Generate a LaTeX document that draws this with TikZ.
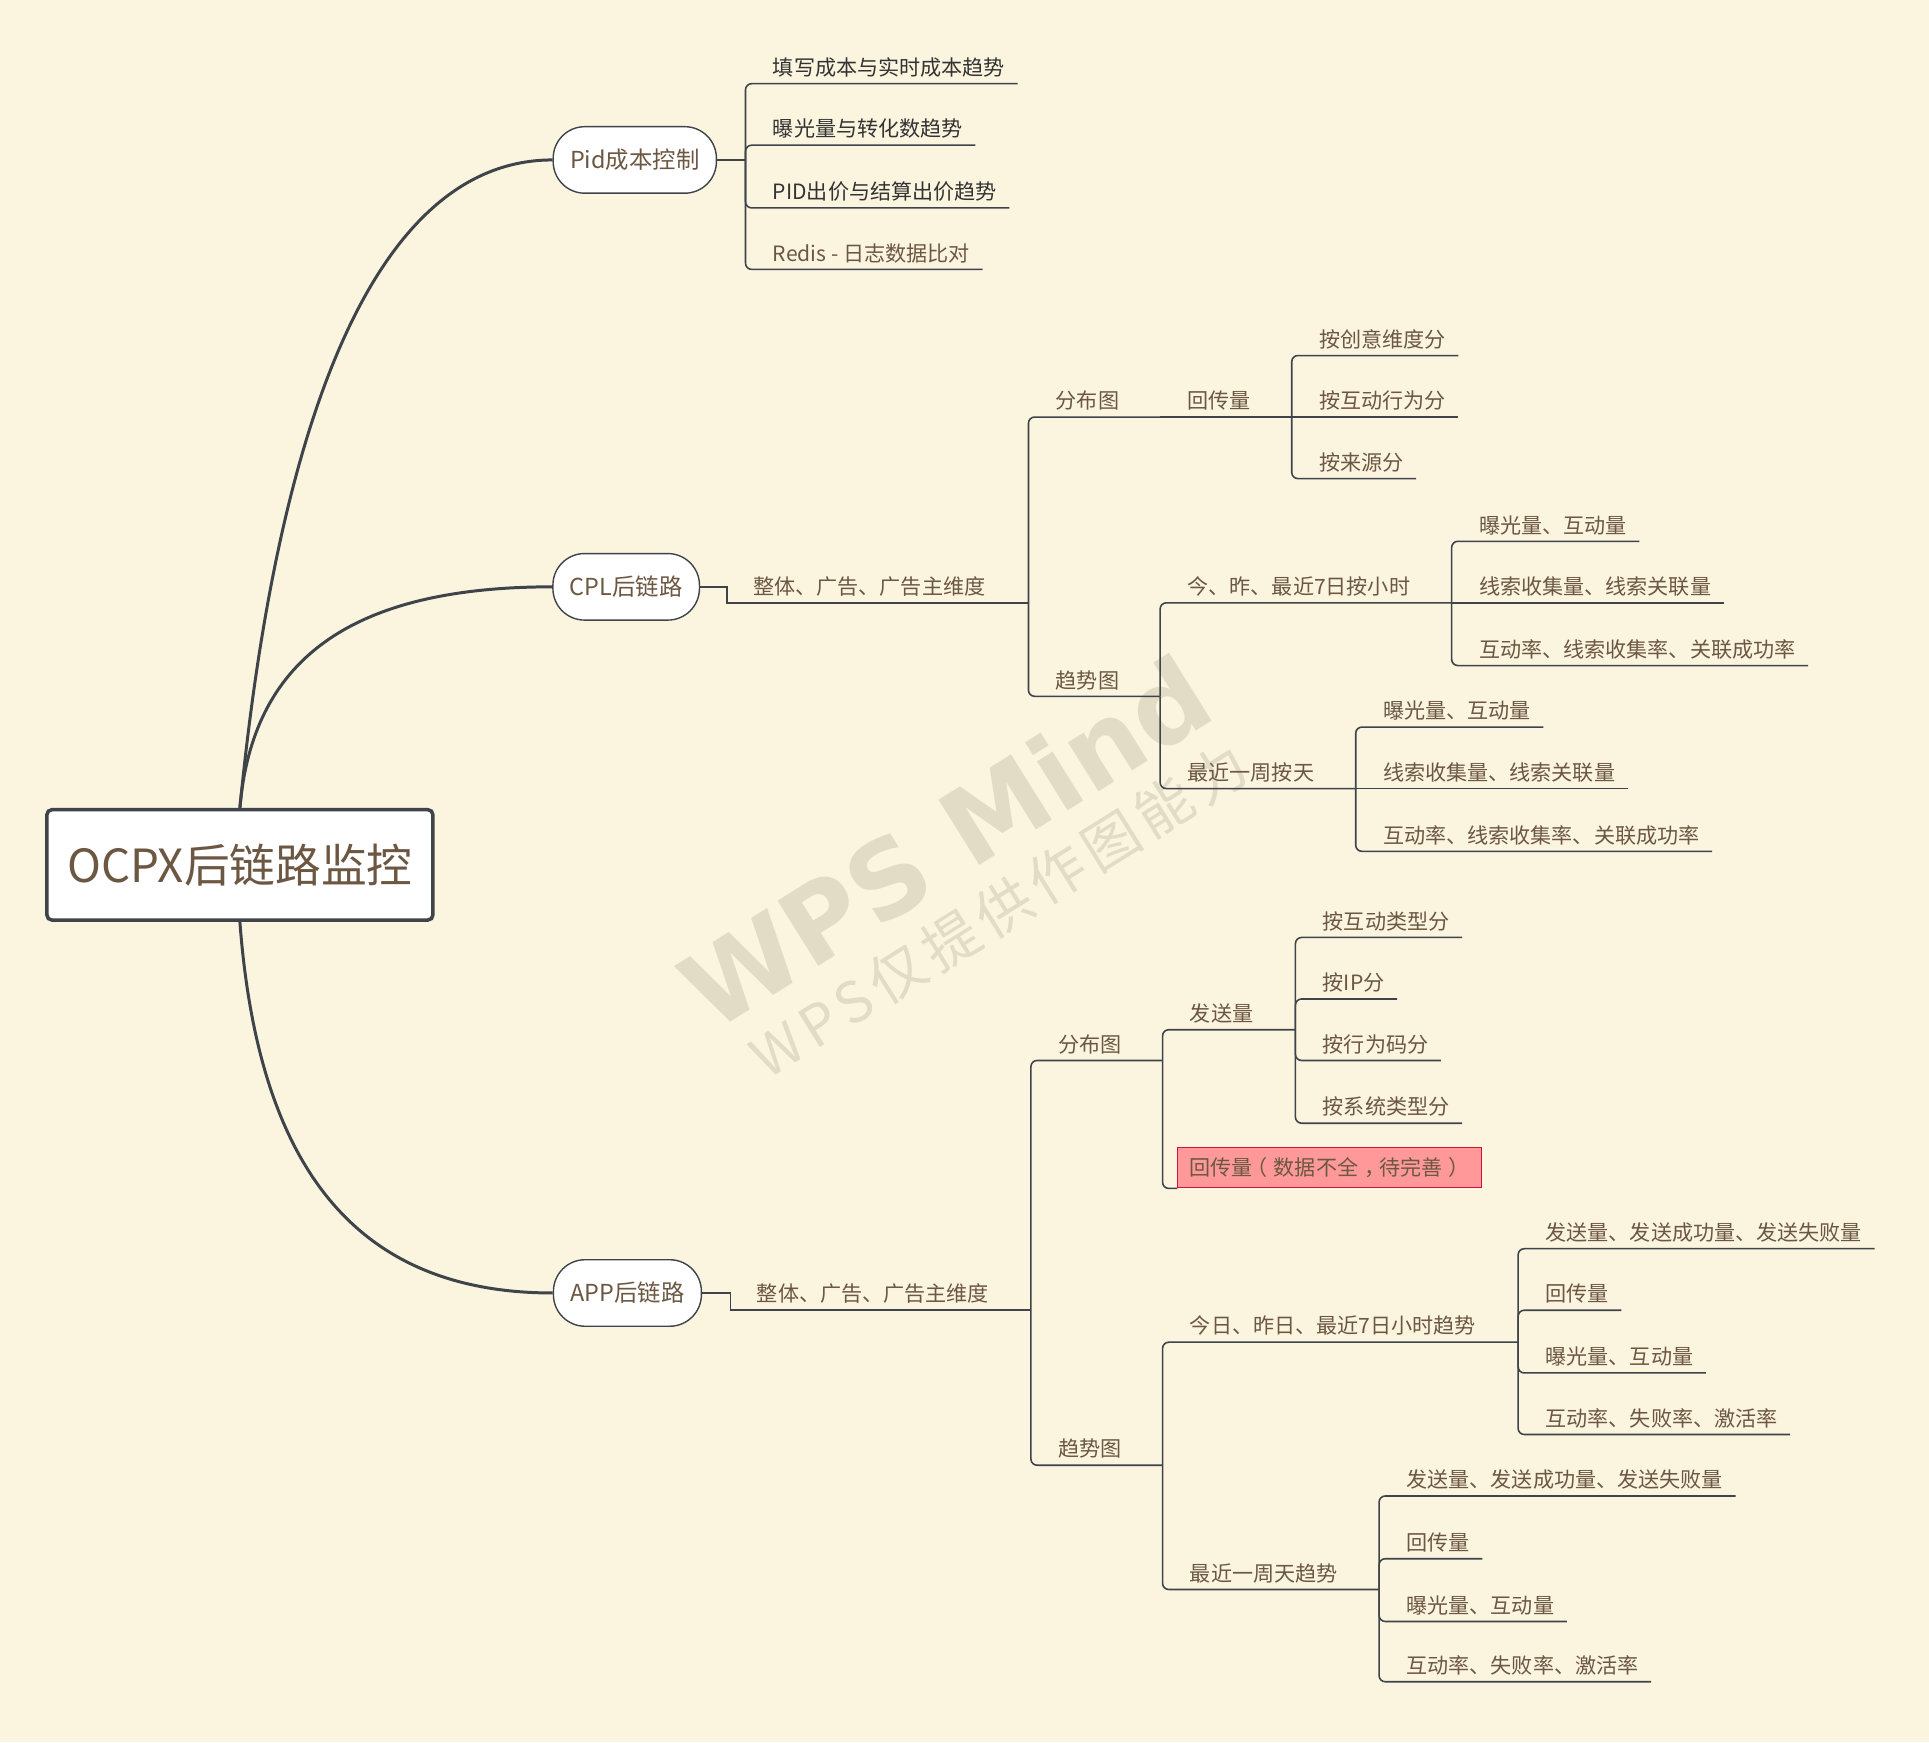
\documentclass[tikz,border=0pt]{standalone}
\usepackage{fontspec}
\setmainfont{Noto Sans CJK SC}
\newfontfamily\wmfont{DejaVu Sans}
\newfontfamily\wmcjk[LetterSpace=12]{Noto Sans CJK SC}
\definecolor{bgcream}{RGB}{251,245,223}
\definecolor{txtbrown}{RGB}{108,87,66}
\definecolor{txtdark}{RGB}{51,51,51}
\definecolor{linegray}{RGB}{62,68,74}
\definecolor{warnfill}{RGB}{255,153,153}
\definecolor{warnred}{RGB}{204,20,60}
\definecolor{wmark}{RGB}{226,220,198}
\newcommand{\cpunct}[2]{\hspace{#1em}#2\hspace{-#1em}}
\tikzset{
  rootbox/.style={draw=linegray, line width=2pt, fill=white, rounded corners=3pt, minimum width=7.72cm, minimum height=2.21cm, font=\fontsize{26}{31}\selectfont, text=txtbrown},
  topic/.style={draw=linegray, line width=0.8pt, fill=white, rounded corners=18pt, minimum height=1.33cm, inner xsep=0.34cm, font=\fontsize{13.3}{16}\selectfont, text=txtbrown},
  leaf/.style={anchor=south west, inner xsep=7pt, inner ysep=4.5pt, text depth=0pt, font=\fontsize{12}{14}\selectfont, text=txtbrown},
  darkleaf/.style={leaf, text=txtdark},
  warnbox/.style={anchor=south west, draw=warnred, line width=0.6pt, fill=warnfill, inner xsep=6.6pt, minimum height=0.81cm, font=\fontsize{12}{14}\selectfont, text=txtbrown},
  branch/.style={draw=linegray, line width=0.9pt, rounded corners=3.5pt},
  stem/.style={draw=linegray, line width=0.9pt},
  mainline/.style={draw=linegray, line width=1.7pt},
  watermark/.style={rotate=32, text=wmark}
}
\begin{document}
\begin{tikzpicture}[x=0.0246cm, y=-0.0246cm]
    % Background and frame
    \fill[bgcream] (0,0) rectangle (1568,1416);
    \useasboundingbox (0,0) rectangle (1568,1416);

    % Watermark
    \node[watermark, font=\wmfont\bfseries\fontsize{60}{70}\selectfont] (wm1) at (768,684) {WPS Mind};
    \node[watermark, font=\wmcjk\fontsize{32}{36}\selectfont] (wm2) at (812,740) {WPS仅提供作图能力};

    % Root and topics
    \node[rootbox] (root) at (195,703) {OCPX后链路监控};
    \node[topic] (pid) at (516,130) {Pid成本控制};
    \node[topic] (cpl) at (509,477) {CPL后链路};
    \node[topic] (app) at (510,1051) {APP后链路};

    \draw[mainline] (root.north) .. controls (230,300) and (320,130) .. (pid.west);
    \draw[mainline] (root.north) .. controls (205,540) and (280,477) .. (cpl.west);
    \draw[mainline] (root.south) .. controls (210,950) and (290,1051) .. (app.west);

    % Pid branch
    \node[darkleaf] (p1) at (618,68) {填写成本与实时成本趋势};
    \node[darkleaf] (p2) at (618,118) {曝光量与转化数趋势};
    \node[darkleaf] (p3) at (618,169) {PID出价与结算出价趋势};
    \node[leaf] (p4) at (618,219) {Redis - 日志数据比对};
    \coordinate (pidj) at (606,130);
    \draw[stem] (pid.east) -- (pidj);
    \draw[branch] (pidj) |- (p1.south east);
    \draw[branch] (pidj) |- (p2.south east);
    \draw[branch] (pidj) |- (p3.south east);
    \draw[branch] (pidj) |- (p4.south east);

    % CPL branch
    \node[leaf] (cdim) at (602,490) {整体、广告、广告主维度};
    \coordinate (cdimj) at (836,490);
    \draw[stem] (cpl.east) -- ++(22,0) |- (cdimj);

    \node[leaf] (cfb) at (848,339) {分布图};
    \coordinate (cfbj) at (943,339);
    \draw[branch] (cdimj) |- (cfbj);
    \node[leaf] (chc) at (955,339) {回传量};
    \coordinate (chcj) at (1050,339);
    \draw[stem] (cfbj) -- (chcj);
    \node[leaf] (chc1) at (1062,289) {按创意维度分};
    \node[leaf] (chc2) at (1062,339) {按互动行为分};
    \node[leaf] (chc3) at (1062,389) {按来源分};
    \draw[branch] (chcj) |- (chc1.south east);
    \draw[stem] (chcj) -- (chc2.south east);
    \draw[branch] (chcj) |- (chc3.south east);

    \node[leaf] (cqs) at (848,566) {趋势图};
    \coordinate (cqsj) at (943,566);
    \draw[branch] (cdimj) |- (cqsj);
    \node[leaf] (chour) at (955,490) {今、昨、最近7日按小时};
    \coordinate (chourj) at (1180,490);
    \draw[branch] (cqsj) |- (chourj);
    \node[leaf] (ch1) at (1192,440) {曝光量、互动量};
    \node[leaf] (ch2) at (1192,490) {线索收集量、线索关联量};
    \node[leaf] (ch3) at (1192,541) {互动率、线索收集率、关联成功率};
    \draw[branch] (chourj) |- (ch1.south east);
    \draw[stem] (chourj) -- (ch2.south east);
    \draw[branch] (chourj) |- (ch3.south east);
    \node[leaf] (cday) at (955,641) {最近一周按天};
    \coordinate (cdayj) at (1102,641);
    \draw[branch] (cqsj) |- (cdayj);
    \node[leaf] (cd1) at (1114,591) {曝光量、互动量};
    \node[leaf] (cd2) at (1114,641) {线索收集量、线索关联量};
    \node[leaf] (cd3) at (1114,692) {互动率、线索收集率、关联成功率};
    \draw[branch] (cdayj) |- (cd1.south east);
    \draw[stem] (cdayj) -- (cd2.south east);
    \draw[branch] (cdayj) |- (cd3.south east);

    % APP branch
    \node[leaf] (adim) at (605,1065) {整体、广告、广告主维度};
    \coordinate (adimj) at (838,1065);
    \draw[stem] (app.east) -- ++(23,0) |- (adimj);

    \node[leaf] (afb) at (850,862) {分布图};
    \coordinate (afbj) at (945,862);
    \draw[branch] (adimj) |- (afbj);
    \node[leaf] (afs) at (957,837) {发送量};
    \coordinate (afsj) at (1053,837);
    \draw[branch] (afbj) |- (afsj);
    \node[leaf] (afs1) at (1065,762) {按互动类型分};
    \node[leaf] (afs2) at (1065,812) {按IP分};
    \node[leaf] (afs3) at (1065,862) {按行为码分};
    \node[leaf] (afs4) at (1065,913) {按系统类型分};
    \draw[branch] (afsj) |- (afs1.south east);
    \draw[branch] (afsj) |- (afs2.south east);
    \draw[branch] (afsj) |- (afs3.south east);
    \draw[branch] (afsj) |- (afs4.south east);
    \node[warnbox] (ahc) at (957,966) {回传量\cpunct{-0.3}{（}数据不全\cpunct{0.3}{，}待完善\hspace{0.3em}）\hspace{-0.45em}};
    \draw[branch] (afbj) |- (ahc.south west);

    \node[leaf] (aqs) at (850,1191) {趋势图};
    \coordinate (aqsj) at (945,1191);
    \draw[branch] (adimj) |- (aqsj);
    \node[leaf] (ahour) at (957,1091) {今日、昨日、最近7日小时趋势};
    \coordinate (ahourj) at (1234,1091);
    \draw[branch] (aqsj) |- (ahourj);
    \node[leaf] (ah1) at (1246,1015) {发送量、发送成功量、发送失败量};
    \node[leaf] (ah2) at (1246,1065) {回传量};
    \node[leaf] (ah3) at (1246,1116) {曝光量、互动量};
    \node[leaf] (ah4) at (1246,1166) {互动率、失败率、激活率};
    \draw[branch] (ahourj) |- (ah1.south east);
    \draw[branch] (ahourj) |- (ah2.south east);
    \draw[branch] (ahourj) |- (ah3.south east);
    \draw[branch] (ahourj) |- (ah4.south east);
    \node[leaf] (aday) at (957,1292) {最近一周天趋势};
    \coordinate (adayj) at (1121,1292);
    \draw[branch] (aqsj) |- (adayj);
    \node[leaf] (ad1) at (1133,1216) {发送量、发送成功量、发送失败量};
    \node[leaf] (ad2) at (1133,1267) {回传量};
    \node[leaf] (ad3) at (1133,1318) {曝光量、互动量};
    \node[leaf] (ad4) at (1133,1367) {互动率、失败率、激活率};
    \draw[branch] (adayj) |- (ad1.south east);
    \draw[branch] (adayj) |- (ad2.south east);
    \draw[branch] (adayj) |- (ad3.south east);
    \draw[branch] (adayj) |- (ad4.south east);
\end{tikzpicture}
\end{document}
